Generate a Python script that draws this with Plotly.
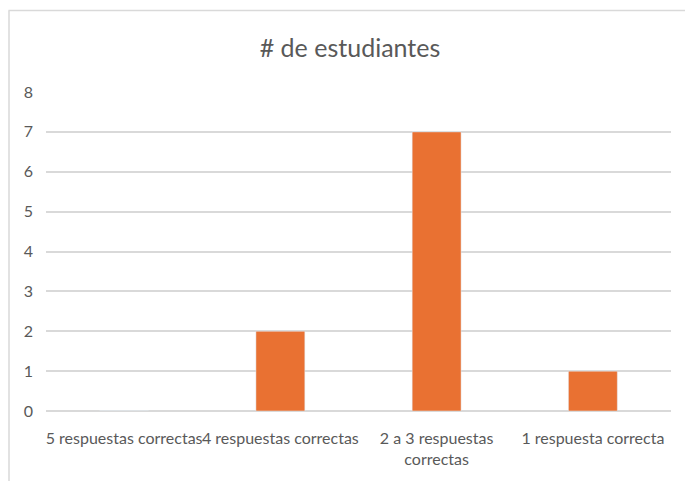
import plotly.graph_objects as go

# Number of students per score bracket
categories = ["5 respuestas correctas", "4 respuestas correctas",
              "2 a 3 respuestas correctas", "1 respuesta correcta"]
tick_labels = ["5 respuestas correctas", "4 respuestas correctas",
               "2 a 3 respuestas<br>correctas", "1 respuesta correcta"]
students = [0, 2, 7, 1]
y_ticks = [0, 1, 2, 3, 4, 5, 6, 7, 8]

W, H = 685, 481
L, R, T, B = 46, 14, 92, 70
plot_w = W - L - R
plot_h = H - T - B

def px_x(x):
    return (x - L) / plot_w

def px_y(y):
    return (H - B - y) / plot_h

font_family = "Lato, sans-serif"
text_gray = "#595959"
grid_gray = "#d9d9d9"

fig = go.Figure(
    go.Bar(
        x=categories,
        y=students,
        marker=dict(color="#E97132"),
        hoverinfo="x+y",
    )
)

fig.update_layout(
    width=W,
    height=H,
    margin=dict(l=L, r=R, t=T, b=B),
    paper_bgcolor="white",
    plot_bgcolor="white",
    bargap=0.687,
    showlegend=False,
    title=dict(
        text="# de estudiantes",
        x=350 / W,
        xanchor="center",
        y=1 - 48 / H,
        yanchor="middle",
        font=dict(family=font_family, size=25, color=text_gray),
    ),
    font=dict(family=font_family, size=16, color=text_gray),
    shapes=[
        # chart frame (top and left edges)
        dict(type="line", xref="paper", yref="paper",
             x0=px_x(8.5), x1=px_x(W), y0=px_y(10.5), y1=px_y(10.5),
             line=dict(color=grid_gray, width=1.5)),
        dict(type="line", xref="paper", yref="paper",
             x0=px_x(9), x1=px_x(9), y0=px_y(10.5), y1=px_y(H),
             line=dict(color=grid_gray, width=1.5)),
    ],
)

fig.update_xaxes(
    tickmode="array",
    tickvals=categories,
    ticktext=tick_labels,
    tickangle=0,
    showgrid=False,
    showline=False,
    ticks="",
    ticklabelstandoff=16,
    tickfont=dict(family=font_family, size=16, color=text_gray),
)

fig.update_yaxes(
    range=[0, 8],
    tickvals=y_ticks,
    showgrid=True,
    gridcolor=grid_gray,
    gridwidth=1.5,
    zeroline=True,
    zerolinecolor=grid_gray,
    zerolinewidth=1.5,
    showline=False,
    ticks="",
    ticklabelstandoff=12,
    tickfont=dict(family=font_family, size=16, color=text_gray),
)

fig.write_html("out.html")
